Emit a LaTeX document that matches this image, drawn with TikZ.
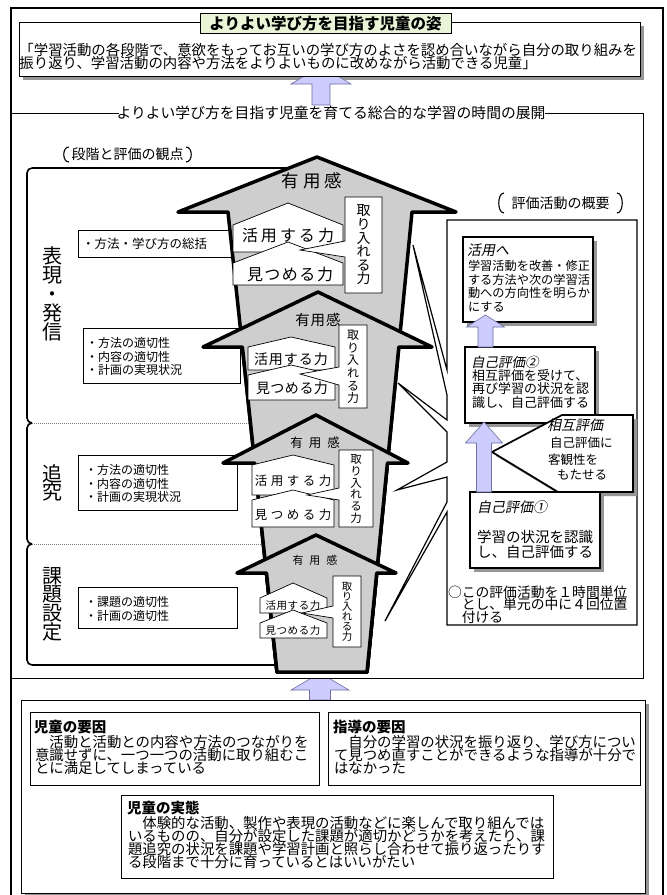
\documentclass[tikz,border=0pt]{standalone}
\usepackage{fontspec}
\setmainfont{Noto Sans CJK JP}
\newfontfamily\cjkit{Noto Sans CJK JP}[FakeSlant=0.2]
\definecolor{titlegreen}{RGB}{234,245,216}
\definecolor{arrowgray}{RGB}{206,206,206}
\definecolor{arrowblue}{RGB}{204,204,255}
\definecolor{arrowblueline}{RGB}{110,110,160}
\definecolor{shadowgray}{RGB}{150,150,150}
\newcommand\fsz[2]{\fontsize{#1}{#2}\selectfont}
\lineskiplimit=-100pt
\lineskip=0pt
\tikzset{
  outerframe/.style={line width=2.5pt},
  thinline/.style={line width=0.8pt},
  plainbox/.style={draw, line width=0.8pt, fill=white},
  boldbox/.style={draw, line width=1.7pt, fill=white},
  bigarrow/.style={draw, line width=3.5pt, fill=arrowgray, line join=round},
  pent/.style={draw, line width=0.7pt, fill=white},
  bluearr/.style={draw=arrowblueline, line width=0.6pt, fill=arrowblue},
  txt/.style={inner sep=0pt, outer sep=0pt},
  stagebox/.style={line width=1.6pt},
  divider/.style={draw=gray, line width=0.8pt, dash pattern=on 1pt off 1pt},
  bracket/.style={line width=1.1pt},
}
\newcommand\upblock[6]{%
  \draw[bluearr] (#1-#6,#4) -- (#1-#6,#3) -- (#1-#5,#3) -- (#1,#2) -- (#1+#5,#3) -- (#1+#6,#3) -- (#1+#6,#4) -- cycle;}
\begin{document}
\begin{tikzpicture}[x=1pt,y=-1pt]
\useasboundingbox (0,0) rectangle (667,895);
\fill[white] (0,0) rectangle (667,895);

% outer frame
\draw[outerframe] (11,897) -- (11,8) -- (663,8) -- (663,897);

% ---------- top: goal ----------
\fill[shadowgray] (23,26) rectangle (644,80);
\upblock{321}{66}{84}{105}{30}{9}
\draw[plainbox] (19,22) rectangle (640,76);
\draw[plainbox, fill=titlegreen] (200,13) rectangle (451,33);
\node[txt, font=\bfseries\fsz{15.5}{16}] (title) at (325.5,23.5) {よりよい学び方を目指す児童の姿};
\node[txt, anchor=north west, align=left, font=\fsz{14.4}{13}] (goal) at (19.5,43.5)
  {「学習活動の各段階で、意欲をもってお互いの学び方のよさを認め合いながら自分の取り組みを\\振り返り、学習活動の内容や方法をよりよいものに改めながら活動できる児童」};

% ---------- middle section frame ----------
\node[txt, font=\fsz{14.8}{15}] (sectiontitle) at (331,113) {よりよい学び方を目指す児童を育てる総合的な学習の時間の展開};
\draw[thinline] (11,113) -- (119,113);
\draw[thinline] (545,113) -- (643,113) -- (643,678) -- (11,678);

% left heading
\draw[bracket] (69,147) .. controls (62,147) and (62,162) .. (69,162);
\draw[bracket] (186,147) .. controls (193,147) and (193,162) .. (186,162);
\node[txt, font=\fsz{14}{14}] (stagehead) at (127.5,154.5) {段階と評価の観点};

% stage boxes
\foreach \ya/\yb in {168/423, 423/544, 544/665}
  \draw[stagebox, rounded corners=5] (32,\ya) -- (27,\ya) -- (27,\yb) -- (32,\yb);
\draw[stagebox] (32,168) -- (320,168);
\draw[stagebox] (32,665) -- (320,665);
\draw[divider] (32,423) -- (300,423);
\draw[divider] (32,544) -- (300,544);

\node[txt, align=center, font=\fsz{20}{19}] (stagethree) at (52,294) {表\\現\\・\\発\\信};
\node[txt, align=center, font=\fsz{20}{18.5}] (stagetwo) at (52,483) {追\\究};
\node[txt, align=center, font=\fsz{20}{18.6}] (stageone) at (52,604) {課\\題\\設\\定};

% criteria boxes
\draw[plainbox] (78,230) rectangle (233,257);
\node[txt, anchor=west, font=\fsz{12.5}{13}] (critthree) at (82,243.5) {・方法・学び方の総括};
\draw[plainbox] (83,328) rectangle (240,383);
\node[txt, anchor=north west, align=left, font=\fsz{12}{13.5}] (crittwoa) at (86,337.6) {・方法の適切性\\・内容の適切性\\・計画の実現状況};
\draw[plainbox] (78,455) rectangle (237,510);
\node[txt, anchor=north west, align=left, font=\fsz{12}{13.5}] (crittwob) at (85,464.6) {・方法の適切性\\・内容の適切性\\・計画の実現状況};
\draw[plainbox] (78,587) rectangle (237,628);
\node[txt, anchor=north west, align=left, font=\fsz{12}{13.5}] (critone) at (85,596.6) {・課題の適切性\\・計画の適切性};

% ---------- right panel ----------
\draw[bracket] (504,193) .. controls (497,193) and (497,213) .. (504,213);
\draw[bracket] (617,193) .. controls (624,193) and (624,213) .. (617,213);
\node[txt, font=\fsz{14}{14}] (evalhead) at (560.5,203) {評価活動の概要};

\draw[line width=1.2pt, fill=white] (637,220) -- (447,220) -- (447,370) -- (413,245) -- (447,395)
  -- (447,420) -- (398,383) -- (447,432) -- (447,462) -- (397,490) -- (447,477)
  -- (447,502) -- (385,621) -- (447,512) -- (447,625) -- (637,625) -- cycle;

% 活用へ
\fill[shadowgray] (467,241) rectangle (597,326);
\draw[boldbox] (463,237) rectangle (593,322);
\node[txt, anchor=west, font=\cjkit\fsz{14}{14}] (usehead) at (467,250) {活用へ};
\node[txt, anchor=north west, align=left, font=\fsz{12.2}{13.5}] (usebody) at (468,260.5)
  {学習活動を改善・修正\\する方法や次の学習活\\動への方向性を明らか\\にする};

% 自己評価②
\fill[shadowgray] (469,351) rectangle (599,427);
\draw[boldbox] (465,347) rectangle (595,423);
\node[txt, anchor=west, font=\cjkit\fsz{13.5}{14}] (selftwohead) at (471,362) {自己評価②};
\node[txt, anchor=north west, align=left, font=\fsz{13}{13.5}] (selftwobody) at (472,369.2)
  {相互評価を受けて、\\再び学習の状況を認\\識し、自己評価する};

% 相互評価 callout
\fill[shadowgray, shift={(4,4)}] (562,415) -- (633,415) -- (633,492) -- (558,492) -- (492,452) -- cycle;
\draw[boldbox] (562,415) -- (633,415) -- (633,492) -- (558,492) -- (492,452) -- cycle;
\node[txt, anchor=west, font=\cjkit\fsz{14}{14}] (mutualhead) at (547,425.5) {相互評価};
\node[txt, anchor=west, font=\fsz{12.5}{13}] (mutualone) at (550,443) {自己評価に};
\node[txt, anchor=west, font=\fsz{12.5}{13}] (mutualtwo) at (548,460) {客観性を};
\node[txt, anchor=west, font=\fsz{12.5}{13}] (mutualthree) at (557,475) {もたせる};

% 自己評価①
\fill[shadowgray] (474,496) rectangle (604,572);
\draw[boldbox] (470,492) rectangle (600,568);
\node[txt, anchor=west, font=\cjkit\fsz{14}{14}] (selfonehead) at (477,507) {自己評価①};
\node[txt, anchor=north west, align=left, font=\fsz{14.5}{15}] (selfonebody) at (477,530.5)
  {学習の状況を認識\\し、自己評価する};

% blue arrows
\upblock{485.5}{315}{327}{347}{19}{7.5}
\upblock{484}{422}{443}{492}{18.5}{7.5}

\node[txt, anchor=north west, align=left, font=\fsz{13.8}{12.3}] (note) at (448,585.8)
  {○この評価活動を１時間単位\\　とし、単元の中に４回位置\\　付ける};

% ---------- big arrows ----------
% level 1 (top)
\draw[bigarrow] (277,672) -- (228,212) -- (178,212) -- (317,157) -- (456,212) -- (412,212) -- (367,672) -- cycle;
\node[txt, font=\fsz{17.5}{18}] (usefulone) at (312,181) {有\hspace{4pt}用\hspace{4pt}感};
\draw[pent] (233,252) -- (233,225) -- (288,203) -- (343,225) -- (343,252) -- cycle;
\node[txt, font=\fsz{16}{16}] (applyone) at (288,235) {活\hspace{3pt}用\hspace{3pt}す\hspace{3pt}る\hspace{3pt}力};
\draw[pent] (233,285) -- (233,263) -- (288,242) -- (343,263) -- (343,285) -- cycle;
\node[txt, font=\fsz{16}{16}] (lookone) at (290,274) {見\hspace{1.5pt}つ\hspace{1.5pt}め\hspace{1.5pt}る\hspace{1.5pt}力};
\draw[pent] (382,197) -- (345,197) -- (345,241) -- (300,250) -- (345,257) -- (345,293) -- (382,293) -- cycle;
\node[txt, align=center, font=\fsz{14}{13.6}] (takeone) at (363.5,245) {取\\り\\入\\れ\\る\\力};

% level 2
\draw[bigarrow] (277,672) -- (242.4,347) -- (203,347) -- (318,292) -- (432,347) -- (398.8,347) -- (367,672) -- cycle;
\node[txt, font=\fsz{14.5}{15}] (usefultwo) at (318,320) {有\hspace{1pt}用\hspace{1pt}感};
\draw[pent] (248,370) -- (248,347) -- (291,337) -- (335,347) -- (335,370) -- cycle;
\node[txt, font=\fsz{14}{14}] (applytwo) at (291,359) {活\hspace{1pt}用\hspace{1pt}す\hspace{1pt}る\hspace{1pt}力};
\draw[pent] (248,400) -- (248,375) -- (291,365) -- (335,375) -- (335,400) -- cycle;
\node[txt, font=\fsz{14}{14}] (looktwo) at (292,388) {見\hspace{0.5pt}つ\hspace{0.5pt}め\hspace{0.5pt}る\hspace{0.5pt}力};
\draw[pent] (367,325) -- (339,325) -- (339,367) -- (300,374) -- (339,385) -- (339,408) -- (367,408) -- cycle;
\node[txt, align=center, font=\fsz{12}{12.6}] (taketwo) at (353,367) {取\\り\\入\\れ\\る\\力};

% level 3
\draw[bigarrow] (277,672) -- (254.7,463) -- (223,463) -- (316,415) -- (408,463) -- (387.4,463) -- (367,672) -- cycle;
\node[txt, font=\fsz{12.5}{13}] (usefulthree) at (315,443) {有\hspace{6pt}用\hspace{6pt}感};
\draw[pent] (252,495) -- (252,465) -- (293,455) -- (334,465) -- (334,495) -- cycle;
\node[txt, font=\fsz{12.5}{13}] (applythree) at (293,481) {活\hspace{3.5pt}用\hspace{3.5pt}す\hspace{3.5pt}る\hspace{3.5pt}力};
\draw[pent] (252,527) -- (252,500) -- (293,490) -- (334,500) -- (334,527) -- cycle;
\node[txt, font=\fsz{12.5}{13}] (lookthree) at (293,515) {見\hspace{3.5pt}つ\hspace{3.5pt}め\hspace{3.5pt}る\hspace{3.5pt}力};
\draw[pent] (373,450) -- (339,450) -- (339,488) -- (307,495) -- (339,500) -- (339,527) -- (373,527) -- cycle;
\node[txt, align=center, font=\fsz{11.5}{11.7}] (takethree) at (356,489) {取\\り\\入\\れ\\る\\力};

% level 4 (bottom)
\draw[bigarrow] (277,672) -- (266.5,573) -- (237,573) -- (316,535) -- (396,573) -- (376.7,573) -- (367,672) -- cycle;
\node[txt, font=\fsz{11}{11}] (usefulfour) at (315,560) {有\hspace{6pt}用\hspace{6pt}感};
\draw[pent] (260,613) -- (260,598) -- (293,583) -- (327,598) -- (327,613) -- cycle;
\node[txt, font=\fsz{10.5}{11}] (applyfour) at (293,605.5) {活\hspace{0.6pt}用\hspace{0.6pt}す\hspace{0.6pt}る\hspace{0.6pt}力};
\draw[pent] (260,638) -- (260,623) -- (293,610) -- (327,623) -- (327,638) -- cycle;
\node[txt, font=\fsz{10.5}{11}] (lookfour) at (293,631) {見\hspace{0.6pt}つ\hspace{0.6pt}め\hspace{0.6pt}る\hspace{0.6pt}力};
\draw[pent] (361,576) -- (333,576) -- (333,606) -- (302,613) -- (333,618) -- (333,647) -- (361,647) -- cycle;
\node[txt, align=center, font=\fsz{10.5}{10.1}] (takefour) at (347,612) {取\\り\\入\\れ\\る\\力};

% ---------- bottom section ----------
\begin{scope}
  \clip (0,679.5) rectangle (667,701);
  \upblock{320}{673}{690}{700}{29}{10.5}
\end{scope}
\fill[shadowgray] (25,704) rectangle (649,897);
\draw[plainbox] (21,700) rectangle (645,893);

\draw[plainbox] (30,712) rectangle (319,785);
\node[txt, anchor=west, font=\bfseries\fsz{14.5}{15}] (childfactorhead) at (34,727) {児童の要因};
\node[txt, anchor=north west, align=left, font=\fsz{14.4}{13}] (childfactor) at (35,735.5)
  {　活動と活動との内容や方法のつながりを\\意識せずに、一つ一つの活動に取り組むこ\\とに満足してしまっている};

\draw[plainbox] (328,712) rectangle (640,785);
\node[txt, anchor=west, font=\bfseries\fsz{14.5}{15}] (teachfactorhead) at (333,727) {指導の要因};
\node[txt, anchor=north west, align=left, font=\fsz{14.4}{13}] (teachfactor) at (334,735.5)
  {　自分の学習の状況を振り返り、学び方につい\\て見つめ直すことができるような指導が十分で\\はなかった};

\draw[plainbox] (121,795) rectangle (553,878);
\node[txt, anchor=west, font=\bfseries\fsz{14.5}{15}] (actualhead) at (127,808) {児童の実態};
\node[txt, anchor=north west, align=left, font=\fsz{14.4}{13}] (actual) at (128,816.5)
  {　体験的な活動、製作や表現の活動などに楽しんで取り組んでは\\いるものの、自分が設定した課題が適切かどうかを考えたり、課\\題追究の状況を課題や学習計画と照らし合わせて振り返ったりす\\る段階まで十分に育っているとはいいがたい};
\end{tikzpicture}
\end{document}
